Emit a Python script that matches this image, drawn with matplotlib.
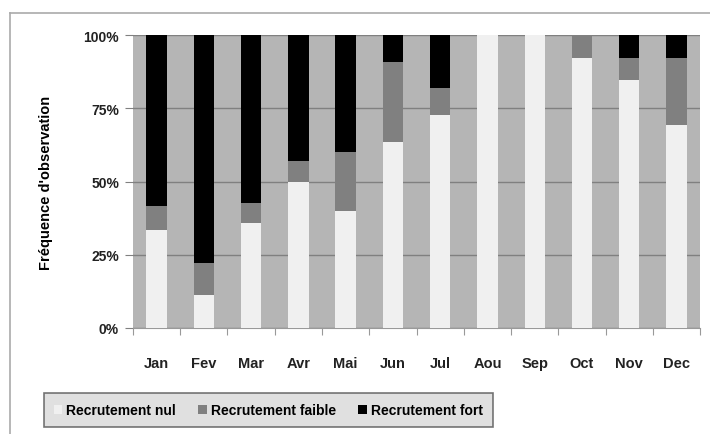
import numpy as np
import matplotlib.pyplot as plt
from matplotlib.lines import Line2D
from matplotlib.ticker import FuncFormatter

plt.rcParams['font.family'] = ['Liberation Sans', 'DejaVu Sans']

months = ['Jan', 'Fev', 'Mar', 'Avr', 'Mai', 'Jun', 'Jul', 'Aou', 'Sep', 'Oct', 'Nov', 'Dec']
# percentages per month
nul = [33.3, 11.1, 35.7, 50.0, 40.0, 63.6, 72.7, 100.0, 100.0, 92.3, 84.6, 69.2]
faible = [8.3, 11.1, 7.1, 7.1, 20.0, 27.3, 9.1, 0.0, 0.0, 7.7, 7.7, 23.1]
fort = [58.3, 77.8, 57.1, 42.9, 40.0, 9.1, 18.2, 0.0, 0.0, 0.0, 7.7, 7.7]
series_names = ['Recrutement nul', 'Recrutement faible', 'Recrutement fort']
colors = ['#f0f0f0', '#808080', '#000000']

fig = plt.figure(figsize=(7.1, 4.35), dpi=100)
ax = fig.add_axes([0.1873, 0.2437, 0.7987, 0.6733])
ax.set_facecolor('#b5b5b5')

x = np.arange(len(months))
bottom = np.zeros(len(months))
bars = []
for vals, col, name in zip([nul, faible, fort], colors, series_names):
    b = ax.bar(x, vals, 0.43, bottom=bottom, color=col, label=name, zorder=3)
    bars.append(b)
    bottom += np.array(vals)

ax.set_xlim(-0.5, len(months) - 0.5)
ax.set_ylim(0, 100)
ax.set_yticks([0, 25, 50, 75, 100])
ax.yaxis.set_major_formatter(FuncFormatter(lambda v, p: '%d%%' % v))
ax.yaxis.grid(True, color='#808080', linewidth=1.0, zorder=1)
ax.tick_params(axis='y', length=6, color='#808080', labelsize=10, pad=4, labelcolor='#222222')

# category ticks sit on the boundaries between months
ax.set_xticks(np.arange(-0.5, len(months)), minor=False)
ax.set_xticklabels([])
ax.set_xticks(x, minor=True)
ax.set_xticklabels(months, minor=True)
ax.tick_params(axis='x', which='major', length=5, color='#999999')
ax.tick_params(axis='x', which='minor', length=0, labelsize=10.5, pad=20, labelcolor='#222222')

for lbl in ax.get_yticklabels() + ax.get_xticklabels(minor=True):
    lbl.set_fontweight('bold')

for side in ['top', 'right', 'left']:
    ax.spines[side].set_visible(False)
ax.spines['bottom'].set_color('#999999')

ax.set_ylabel("Fréquence d'observation", fontsize=10.5, fontweight='bold', labelpad=22)

leg = fig.legend(handles=bars, labels=series_names, loc='center', ncol=3,
                 bbox_to_anchor=(0.378, 0.055), frameon=True, fontsize=10,
                 handlelength=0.6, handleheight=0.6, handletextpad=0.3, columnspacing=1.6,
                 borderpad=0.75)
leg.get_frame().set_facecolor('#d9d9d9')
leg.get_frame().set_edgecolor('#555555')
leg.get_frame().set_linewidth(1.2)
leg.get_frame().set_boxstyle('square', pad=0.0)
for t in leg.get_texts():
    t.set_fontweight('bold')

# outer chart frame
fig.add_artist(Line2D([10 / 710, 1.0], [1 - 14 / 435, 1 - 14 / 435], color='#aaaaaa', lw=1.2))
fig.add_artist(Line2D([10 / 710, 10 / 710], [0, 1 - 14 / 435], color='#aaaaaa', lw=1.2))

fig.savefig('out.png', dpi=100)
